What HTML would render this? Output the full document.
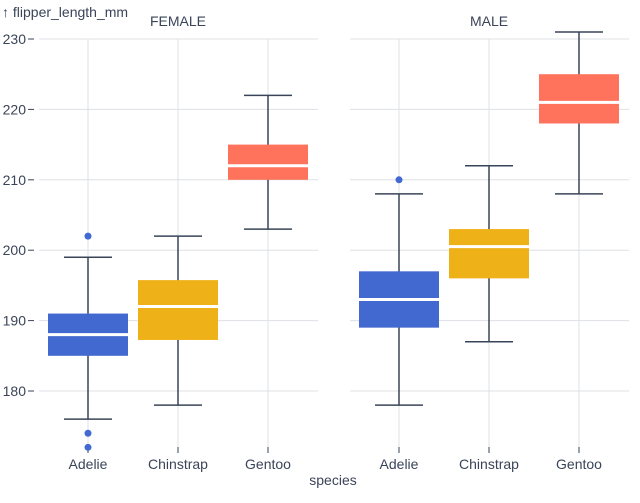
<!DOCTYPE html>
<html><head><meta charset="utf-8"><style>
body{margin:0;background:#fff}
svg{display:block;font-family:"Liberation Sans",sans-serif}
</style></head><body>
<svg width="640" height="503" viewBox="0 0 640 503">
<g id="g"></g>
</svg>
<script>
const y=v=>39+(230-v)*7.04;
let s='';
const panels=[{x0:39,x1:318,c:[88,178,268],t:'FEMALE',tx:178},{x0:350,x1:629,c:[399,489,579],t:'MALE',tx:489}];
const cols=['#4269d0','#efb118','#ff725c'];
const data=[
[[176,185,188,191,199,[202,174,172]],[178,187.25,192,195.75,202,[]],[203,210,212,215,222,[]]],
[[178,189,193,197,208,[210]],[187,196,200.5,203,212,[]],[208,218,221,225,231,[]]]];
s+=`<text x="2" y="17" font-size="14" fill="#3a4458">↑ flipper_length_mm</text>`;
for(let v=180;v<=230;v+=10){
 s+=`<text x="26" y="${y(v)+5}" font-size="14" fill="#3a4458" text-anchor="end">${v}</text><line x1="28" x2="34" y1="${y(v)}" y2="${y(v)}" stroke="#3a4458"/>`;
}
panels.forEach((p,pi)=>{
 for(let v=180;v<=230;v+=10)s+=`<line x1="${p.x0}" x2="${p.x1}" y1="${y(v)}" y2="${y(v)}" stroke="#dde0e4"/>`;
 p.c.forEach(c=>{s+=`<line x1="${c}" x2="${c}" y1="39" y2="447" stroke="#dde0e4"/><line x1="${c}" x2="${c}" y1="447" y2="453" stroke="#3a4458"/>`;});
 s+=`<text x="${p.tx}" y="26" font-size="14" fill="#3a4458" text-anchor="middle">${p.t}</text>`;
 ['Adelie','Chinstrap','Gentoo'].forEach((n,i)=>s+=`<text x="${p.c[i]}" y="469" font-size="14" fill="#3a4458" text-anchor="middle">${n}</text>`);
 data[pi].forEach((d,i)=>{const c=p.c[i];
  s+=`<line x1="${c}" x2="${c}" y1="${y(d[4])}" y2="${y(d[0])}" stroke="#3a4458" stroke-width="1.5"/>`;
  s+=`<line x1="${c-24}" x2="${c+24}" y1="${y(d[4])}" y2="${y(d[4])}" stroke="#3a4458" stroke-width="1.5"/>`;
  s+=`<line x1="${c-24}" x2="${c+24}" y1="${y(d[0])}" y2="${y(d[0])}" stroke="#3a4458" stroke-width="1.5"/>`;
  s+=`<rect x="${c-40}" y="${y(d[3])}" width="80" height="${y(d[1])-y(d[3])}" fill="${cols[i]}"/>`;
  s+=`<line x1="${c-40}" x2="${c+40}" y1="${y(d[2])}" y2="${y(d[2])}" stroke="#fff" stroke-width="3"/>`;
  d[5].forEach(o=>s+=`<circle cx="${c}" cy="${y(o)}" r="3.5" fill="${cols[i]}"/>`);
 });
});
s+=`<text x="333" y="485" font-size="14" fill="#3a4458" text-anchor="middle">species</text>`;
document.getElementById('g').innerHTML=s;
</script>
</body></html>
